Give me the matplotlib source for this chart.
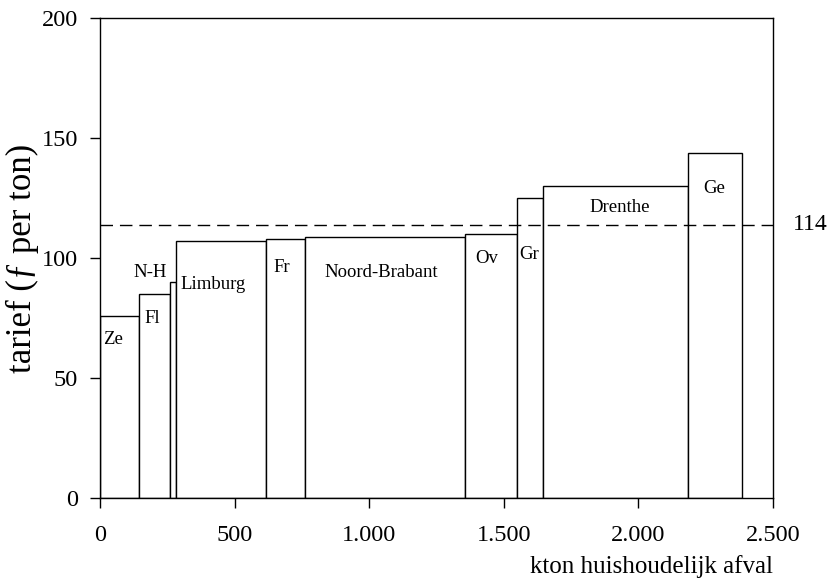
import numpy as np
import matplotlib.pyplot as plt

plt.rcParams['font.family'] = ['Liberation Serif', 'DejaVu Serif']

# provinces, amount of household waste (kton) and tariff (f per ton)
provinces = ['Ze', 'Fl', 'N-H', 'Limburg', 'Fr', 'Noord-Brabant', 'Ov', 'Gr', 'Drenthe', 'Ge']
kton = [144, 115, 25, 334, 142, 594, 195, 95, 541, 199]
tarief = [76, 85, 90, 107, 108, 109, 110, 125, 130, 144]
gemiddeld = 114

x_ticks = [0, 500, 1000, 1500, 2000, 2500]
x_ticklabels = ['0', '500', '1.000', '1.500', '2.000', '2.500']
y_ticks = [0, 50, 100, 150, 200]

# label positions inside the bars (kton, tariff)
label_x = [48, 193, 185, 419, 675, 1046, 1435, 1595, 1929, 2281]
label_y = [66, 75, 94, 89, 96, 94, 100, 101.5, 121, 129]

fig = plt.figure(figsize=(8.35, 5.83), dpi=100)
ax = fig.add_axes([0.1198, 0.1453, 0.806, 0.8233])

left = np.concatenate([[0], np.cumsum(kton)[:-1]])
ax.bar(left, tarief, width=kton, align='edge', color='white',
       edgecolor='black', linewidth=1.0, zorder=2)

ax.axhline(gemiddeld, color='black', linewidth=1.0, dashes=(9, 5), zorder=3)
ax.text(1.03, gemiddeld, str(gemiddeld), transform=ax.get_yaxis_transform(),
        ha='left', va='center', fontsize=17)

for name, lx, ly in zip(provinces, label_x, label_y):
    ax.text(lx, ly, name, ha='center', va='center', fontsize=13.5, zorder=4)

ax.set_xlim(0, 2500)
ax.set_ylim(0, 200)
ax.set_xticks(x_ticks)
ax.set_xticklabels(x_ticklabels)
ax.set_yticks(y_ticks)
ax.tick_params(direction='out', length=7, width=1.0, labelsize=17.5)
ax.tick_params(axis='y', pad=9)
ax.tick_params(axis='x', pad=12)

for s in ax.spines.values():
    s.set_linewidth(1.0)

ax.set_ylabel('tarief (ƒ per ton)', fontsize=25)
ax.yaxis.set_label_coords(-0.09, 0.5)
ax.set_xlabel('kton huishoudelijk afval', fontsize=18, loc='right', labelpad=7)

fig.savefig('out.png', dpi=100, facecolor='white')
